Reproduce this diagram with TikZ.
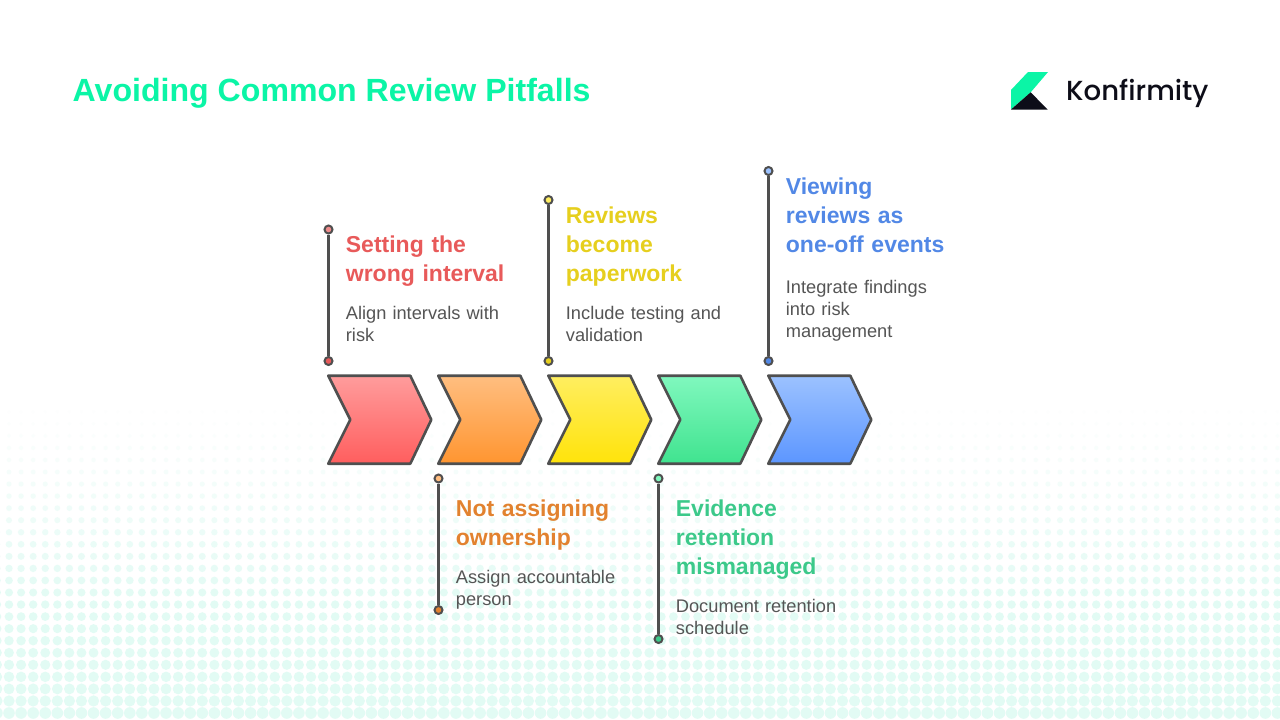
\documentclass[tikz,border=0pt]{standalone}
\usepackage{fontspec}
\setmainfont{Liberation Sans}
\newfontfamily\logofont{Poppins Medium}
\usetikzlibrary{calc}
\definecolor{cTitle}{HTML}{0BF5A6}
\definecolor{cLine}{HTML}{4F4F4F}
\definecolor{cBody}{HTML}{555555}
\definecolor{cDot}{HTML}{E2FBF4}
\definecolor{cInk}{HTML}{0D0D18}
\definecolor{cA}{HTML}{E85A5A}\definecolor{cAa}{HTML}{FF9C9C}\definecolor{cAb}{HTML}{FF5E5E}
\definecolor{cB}{HTML}{E2822F}\definecolor{cBa}{HTML}{FFBE80}\definecolor{cBb}{HTML}{FF9530}
\definecolor{cC}{HTML}{E6CF1E}\definecolor{cCa}{HTML}{FFEE60}\definecolor{cCb}{HTML}{FFE30A}
\definecolor{cD}{HTML}{3CC98A}\definecolor{cDa}{HTML}{80F8BE}\definecolor{cDb}{HTML}{40E38F}
\definecolor{cE}{HTML}{5288E6}\definecolor{cEa}{HTML}{9CC2FF}\definecolor{cEb}{HTML}{5C96FF}
\tikzset{
  x=1pt,y=-1pt,
  chevron/.style n args={2}{draw=cLine,line width=2.6pt,line join=round,top color=#1,bottom color=#2,shading angle=0},
  pin/.style={draw=cLine,line width=2.4pt},
  pindot/.style={circle,draw=cLine,line width=2pt,inner sep=0pt,minimum size=8pt},
  head/.style={anchor=north west,align=left,inner sep=0pt,font=\fontsize{23}{29.2}\selectfont\bfseries,text width=200pt},
  body/.style={anchor=north west,align=left,inner sep=0pt,font=\fontsize{18.25}{22}\selectfont,text=cBody,text width=200pt},
}
\newcommand{\chev}[3]{\path[chevron={#2}{#3}] (#1,375.7) -- ++(82,0) -- ++(21,44) -- ++(-21,44) -- ++(-82,0) -- ++(22,-44) -- cycle;}
\begin{document}
\begin{tikzpicture}
\useasboundingbox (0,0) rectangle (1280,720);
\fill[white] (0,0) rectangle (1280,720);
% halftone background
\foreach \r in {0,...,26}{
  \pgfmathsetmacro{\yy}{713-12.05*\r}
  \pgfmathsetmacro{\rad}{1.5+4.3*(1-\r/27)^1.15}
  \pgfmathsetmacro{\op}{min(1,(\yy-405)/200)}
  \foreach \c in {-1,...,106}{
    \fill[cDot,fill opacity=\op] ({9+12.08*\c},\yy) circle[radius=\rad pt];
  }
}
% title
\node[anchor=west,inner sep=0pt,text=cTitle,font=\fontsize{32.1}{40}\selectfont\bfseries] (title) at (72.5,93.2) {Avoiding Common Review Pitfalls};
% logo
\fill[cTitle] (1011,90) -- (1028,72) -- (1048,72) -- (1030.7,92.3) -- (1011,109.3) -- cycle;
\fill[cInk] (1011,109.5) -- (1030.7,92.3) -- (1047.5,109.5) -- cycle;
\node[anchor=west,inner sep=0pt,font=\fontsize{27.6}{36}\selectfont\logofont,text=cInk] (logo) at (1066,93) {Konfirmity};
% chevrons
\chev{328.3}{cAa}{cAb}
\chev{438.3}{cBa}{cBb}
\chev{548.3}{cCa}{cCb}
\chev{658.3}{cDa}{cDb}
\chev{768.3}{cEa}{cEb}
% pins
\node[pindot,fill=cA!70] (a1) at (328.5,229.5) {};
\node[pindot,fill=cA] (a2) at (328.5,361) {};
\draw[pin] (a1) -- (a2);
\node[pindot,fill=cBa] (b1) at (438.5,478.5) {};
\node[pindot,fill=cB] (b2) at (438.5,610) {};
\draw[pin] (b1) -- (b2);
\node[pindot,fill=cCa] (c1) at (548.5,200) {};
\node[pindot,fill=cC] (c2) at (548.5,361) {};
\draw[pin] (c1) -- (c2);
\node[pindot,fill=cDa] (d1) at (658.5,478.5) {};
\node[pindot,fill=cD] (d2) at (658.5,639) {};
\draw[pin] (d1) -- (d2);
\node[pindot,fill=cEa] (e1) at (768.5,171) {};
\node[pindot,fill=cE] (e2) at (768.5,361) {};
\draw[pin] (e1) -- (e2);
% labels
\node[head,text=cA] (ta) at (345.7,235.5) {Setting the\\wrong interval};
\node[body] (ba) at (345.7,306) {Align intervals with\\risk};
\node[head,text=cB] (tb) at (455.7,499.5) {Not assigning\\ownership};
\node[body] (bb) at (455.7,570) {Assign accountable\\person};
\node[head,text=cC] (tc) at (565.7,206.5) {Reviews\\become\\paperwork};
\node[body] (bc) at (565.7,306) {Include testing and\\validation};
\node[head,text=cD] (td) at (675.7,499.5) {Evidence\\retention\\mismanaged};
\node[body] (bd) at (675.7,599) {Document retention\\schedule};
\node[head,text=cE] (te) at (785.7,177.5) {Viewing\\reviews as\\one-off events};
\node[body] (be) at (785.7,280) {Integrate findings\\into risk\\management};
\end{tikzpicture}
\end{document}
